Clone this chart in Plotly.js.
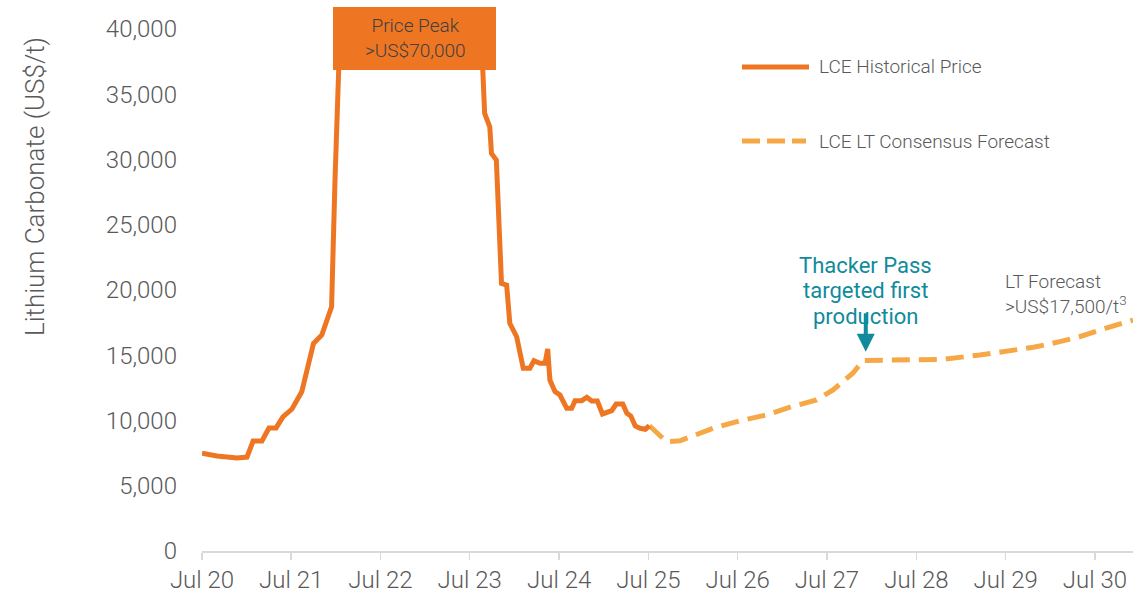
<!DOCTYPE html>
<html>
<head>
<meta charset="utf-8">
<script src="https://cdn.plot.ly/plotly-3.0.1.min.js"></script>
<style>html,body{margin:0;padding:0;background:#fff;}#chart{width:1148px;height:595px;}</style>
</head>
<body>
<div id="chart"></div>
<script>
// ---- Data ----
const histDates = ["2020-07-01","2020-08-31","2020-11-21","2021-01-01","2021-01-26","2021-03-03","2021-04-01","2021-04-30","2021-05-28","2021-07-04","2021-08-13","2021-09-30","2021-11-03","2021-12-06","2021-12-13","2021-12-27","2022-01-07","2022-01-25","2022-03-15","2022-06-15","2022-09-15","2022-11-20","2023-02-01","2023-05-15","2023-08-05","2023-08-20","2023-08-31","2023-09-21","2023-09-28","2023-10-18","2023-11-08","2023-11-29","2023-12-12","2024-01-09","2024-02-05","2024-03-03","2024-03-20","2024-04-13","2024-05-04","2024-05-15","2024-05-24","2024-06-14","2024-07-04","2024-08-01","2024-08-21","2024-09-04","2024-10-01","2024-10-22","2024-11-11","2024-12-04","2024-12-25","2025-02-01","2025-02-19","2025-03-18","2025-04-04","2025-04-20","2025-05-08","2025-05-28","2025-06-18","2025-07-05"];
const histValues = [7500,7280,7130,7200,8430,8430,9430,9430,10270,10880,12200,15900,16550,18340,18720,28430,37000,50000,72000,70000,75000,81000,65000,50000,45000,36860,33540,32510,30470,29960,20510,20380,17450,16420,14000,14000,14580,14380,14380,15480,13100,12210,11950,10930,10930,11520,11520,11780,11490,11490,10500,10750,11260,11260,10550,10340,9580,9400,9330,9600];

const fcDates = ["2025-07-05","2025-09-13","2025-11-07","2025-12-17","2026-03-22","2026-07-10","2026-10-27","2027-02-07","2027-05-19","2027-07-26","2027-10-15","2027-11-26","2028-04-23","2028-10-18","2029-03-17","2029-07-04","2029-10-23","2030-02-07","2030-04-29","2030-08-16","2030-12-04"];
const fcValues = [9600,8370,8450,8760,9400,9980,10420,11060,11570,12340,13620,14600,14640,14690,15020,15270,15610,16040,16420,17070,17700];

const seriesNames = ["LCE Historical Price","LCE LT Consensus Forecast"];
const yTickVals = [0,5000,10000,15000,20000,25000,30000,35000,40000];
const yTitle = "Lithium Carbonate (US$/t)";
const peakLabel = "Price Peak<br>>US$70,000";
const thackerLines = ["Thacker Pass","targeted first","production"];
const thackerDate = "2027-12-07";
const thackerValue = 15270;
const ltLabel = "LT Forecast<br>>US$17,500/t<sup>3</sup>";

// ---- Styles ----
const FONT = "Roboto, 'Noto Sans', 'DejaVu Sans', sans-serif";
const C_HIST = "#EE7623";
const C_FC = "#F5A845";
const C_TEAL = "#0F8B9B";
const C_TXT = "#595959";

const traces = [
  {x: fcDates, y: fcValues, type: "scatter", mode: "lines", name: seriesNames[1],
   line: {color: C_FC, width: 5, dash: "18px,9px"}, hoverinfo: "skip"},
  {x: histDates, y: histValues, type: "scatter", mode: "lines", name: seriesNames[0],
   line: {color: C_HIST, width: 5}, hoverinfo: "skip"}
];

const L = 202, R = 1133, T = 29, B = 551;
const W = R - L, H = B - T;
const px = v => (v - L) / W;
const py = v => (B - v) / H;

const thackerY = [265, 290.5, 316];
const thackerAnn = thackerLines.map((t, i) => ({
  xref: "x", yref: "paper", x: thackerDate, y: py(thackerY[i]), text: t, showarrow: false,
  xanchor: "center", yanchor: "middle", align: "center",
  font: {family: FONT, size: 22, color: C_TEAL, weight: 400}
}));

const layout = {
  width: 1148, height: 595,
  margin: {l: L, r: 1148 - R, t: T, b: 595 - B, pad: 0},
  paper_bgcolor: "#ffffff", plot_bgcolor: "#ffffff",
  showlegend: false,
  font: {family: FONT, color: C_TXT},
  xaxis: {
    type: "date", range: ["2020-07-01", "2030-12-04"],
    tick0: "2020-07-01", dtick: "M12", tickformat: "%b %y",
    ticks: "outside", ticklen: 7, tickwidth: 1.5, tickcolor: "#d9d9d9",
    showline: true, linecolor: "#d9d9d9", linewidth: 1.5,
    showgrid: false, zeroline: false,
    tickfont: {family: FONT, size: 24, color: C_TXT, weight: 300}
  },
  yaxis: {
    range: [0, 40000], tickvals: yTickVals, tickformat: ",",
    showgrid: false, zeroline: false, showline: false, ticks: "",
    ticklabelstandoff: 24,
    tickfont: {family: FONT, size: 24, color: C_TXT, weight: 300}
  },
  shapes: [
    {type: "rect", xref: "paper", yref: "paper", x0: px(333), x1: px(496), y0: py(70), y1: py(7),
     fillcolor: C_HIST, line: {width: 0}, layer: "above"},
    {type: "line", xref: "paper", yref: "paper", x0: px(742), x1: px(809), y0: py(67), y1: py(67),
     line: {color: C_HIST, width: 5}},
    {type: "line", xref: "paper", yref: "paper", x0: px(742), x1: px(806), y0: py(141), y1: py(141),
     line: {color: C_FC, width: 5, dash: "18px,7px"}}
  ],
  annotations: [
    {xref: "paper", yref: "paper", x: px(35), y: py(187), text: yTitle, showarrow: false, textangle: -90,
     xanchor: "center", yanchor: "middle",
     font: {family: FONT, size: 26, color: C_TXT, weight: 300}},
    {xref: "paper", yref: "paper", x: px(415), y: py(38), text: peakLabel, showarrow: false,
     xanchor: "center", yanchor: "middle", align: "center",
     font: {family: FONT, size: 19, color: "#404040", weight: 300}},
    {xref: "paper", yref: "paper", x: px(817), y: py(67), text: seriesNames[0], showarrow: false,
     xanchor: "left", yanchor: "middle", font: {family: FONT, size: 19, color: C_TXT, weight: 300}},
    {xref: "paper", yref: "paper", x: px(817), y: py(141), text: seriesNames[1], showarrow: false,
     xanchor: "left", yanchor: "middle", font: {family: FONT, size: 19, color: C_TXT, weight: 300}},
    ...thackerAnn,
    {xref: "x", yref: "y", x: thackerDate, y: thackerValue, text: "", showarrow: true,
     ax: 0, ay: -40, axref: "pixel", ayref: "pixel", arrowcolor: C_TEAL, arrowwidth: 4,
     arrowhead: 2, arrowsize: 0.9, standoff: 0, startstandoff: 0},
    {xref: "paper", yref: "paper", x: px(1003), y: py(294), text: ltLabel, showarrow: false,
     xanchor: "left", yanchor: "middle", align: "left",
     font: {family: FONT, size: 19, color: C_TXT, weight: 300}}
  ]
};

Plotly.newPlot("chart", traces, layout, {displayModeBar: false, staticPlot: true});
</script>
</body>
</html>
